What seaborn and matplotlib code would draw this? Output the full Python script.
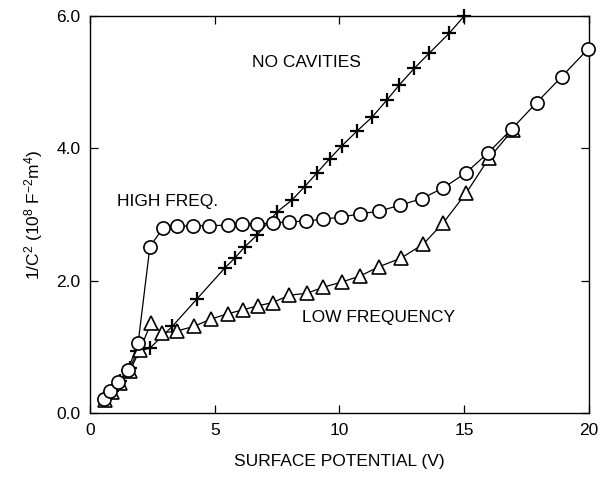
import matplotlib
matplotlib.use("Agg")
import matplotlib.pyplot as plt
import seaborn as sns
import pandas as pd

# ---- data ----
nocav_x = [0.6, 0.9, 1.2, 1.6, 1.9, 2.4, 3.3, 4.3, 5.4, 5.8, 6.2, 6.7, 7.5, 8.1, 8.6,
           9.1, 9.6, 10.1, 10.7, 11.3, 11.9, 12.4, 13.0, 13.6, 14.4, 15.0]
nocav_y = [0.22, 0.33, 0.48, 0.68, 0.93, 0.98, 1.31, 1.73, 2.19, 2.34, 2.51, 2.69, 3.04,
           3.22, 3.42, 3.63, 3.84, 4.04, 4.26, 4.47, 4.73, 4.96, 5.21, 5.44, 5.74, 6.0]

high_x = [0.56, 0.8, 1.12, 1.52, 1.93, 2.4, 2.93, 3.49, 4.13, 4.77, 5.53, 6.09, 6.7, 7.34,
          7.98, 8.66, 9.34, 10.06, 10.82, 11.58, 12.42, 13.3, 14.15, 15.07, 15.95, 16.9,
          17.9, 18.9, 19.96]
high_y = [0.21, 0.33, 0.47, 0.65, 1.06, 2.51, 2.80, 2.82, 2.83, 2.83, 2.84, 2.85, 2.86,
          2.87, 2.89, 2.90, 2.93, 2.96, 3.01, 3.05, 3.14, 3.24, 3.40, 3.63, 3.93, 4.29,
          4.69, 5.08, 5.50]

low_x = [0.6, 0.9, 1.2, 1.6, 2.0, 2.44, 2.9, 3.49, 4.17, 4.85, 5.53, 6.13, 6.73, 7.33,
         7.98, 8.7, 9.34, 10.1, 10.82, 11.58, 12.46, 13.35, 14.15, 15.07, 15.99, 16.95]
low_y = [0.2, 0.32, 0.46, 0.64, 0.95, 1.36, 1.21, 1.24, 1.31, 1.42, 1.50, 1.56, 1.62, 1.67,
         1.78, 1.81, 1.90, 1.98, 2.07, 2.21, 2.34, 2.55, 2.87, 3.32, 3.85, 4.28]

x_ticks = [0, 5, 10, 15, 20]
y_ticks = [0.0, 2.0, 4.0, 6.0]
y_ticklabels = ["0.0", "2.0", "4.0", "6.0"]

sns.set_theme(style="ticks")
plt.rcParams["font.family"] = ["Liberation Sans", "DejaVu Sans"]
plt.rcParams["mathtext.fontset"] = "custom"
plt.rcParams["mathtext.rm"] = "Liberation Sans"
plt.rcParams["mathtext.it"] = "Liberation Sans"
for k in ["text.color", "axes.labelcolor", "xtick.color", "ytick.color", "axes.edgecolor"]:
    plt.rcParams[k] = "black"

fig = plt.figure(figsize=(6.02, 4.86), dpi=100)
ax = fig.add_axes([0.1495, 0.1502, 0.8289, 0.8169])

df_nc = pd.DataFrame({"x": nocav_x, "y": nocav_y})
df_hi = pd.DataFrame({"x": high_x, "y": high_y})
df_lo = pd.DataFrame({"x": low_x, "y": low_y})

sns.lineplot(data=df_nc, x="x", y="y", ax=ax, sort=False, color="black", lw=0.9,
             marker="+", markersize=9.5, markeredgecolor="black", markeredgewidth=1.6,
             zorder=2, clip_on=False)
sns.lineplot(data=df_lo, x="x", y="y", ax=ax, sort=False, color="black", lw=0.9,
             marker="^", markersize=10.5, markerfacecolor="white", markeredgecolor="black",
             markeredgewidth=1.2, zorder=3, clip_on=False)
sns.lineplot(data=df_hi, x="x", y="y", ax=ax, sort=False, color="black", lw=0.9,
             marker="o", markersize=9.5, markerfacecolor="white", markeredgecolor="black",
             markeredgewidth=1.2, zorder=4, clip_on=False)

ax.set_xlim(0, 20)
ax.set_ylim(0, 6)
ax.set_xticks(x_ticks)
ax.set_xticklabels([str(t) for t in x_ticks])
ax.set_yticks(y_ticks)
ax.set_yticklabels(y_ticklabels)
ax.tick_params(direction="in", length=6, width=0.9, top=True, right=True,
               labelsize=12.5, colors="black", pad=7)
for s in ax.spines.values():
    s.set_linewidth(1.0)
    s.set_color("black")

ax.set_xlabel("SURFACE POTENTIAL (V)", fontsize=12.5, labelpad=12)
ax.set_ylabel("1/C$^2$ (10$^8$ F$^{-2}$m$^4$)", fontsize=12.5, labelpad=8)

ax.text(6.5, 5.29, "NO CAVITIES", fontsize=12.5, va="center", ha="left")
ax.text(1.08, 3.2, "HIGH FREQ.", fontsize=12.5, va="center", ha="left")
ax.text(8.5, 1.45, "LOW FREQUENCY", fontsize=12.5, va="center", ha="left")

ax.grid(False)
fig.savefig("out.png", dpi=100)
